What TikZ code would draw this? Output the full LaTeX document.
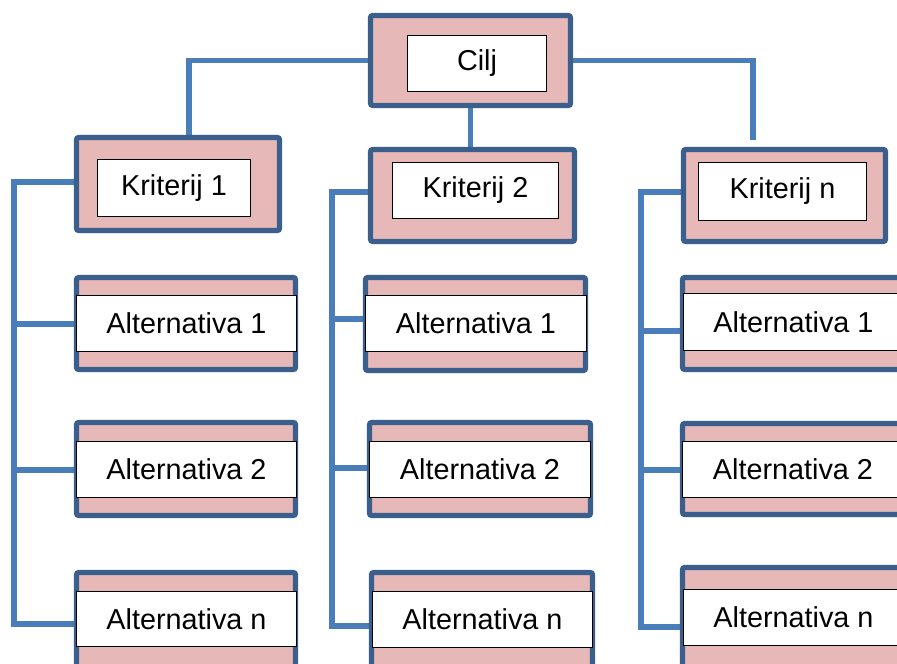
\documentclass[tikz,border=0pt]{standalone}
\usepackage{fontspec}
\setmainfont{Liberation Sans}
\usetikzlibrary{backgrounds}
\definecolor{bordblue}{HTML}{3A5F8D}
\definecolor{pinkfill}{HTML}{E6B8B7}
\definecolor{connblue}{HTML}{4A7EBB}
\tikzset{
  outerbox/.style 2 args={draw=bordblue, fill=pinkfill, line width=3.8pt, rounded corners=1.5pt,
     inner sep=0pt, outer sep=0pt, minimum width=#1*0.75pt, minimum height=#2*0.75pt},
  innerbox/.style 2 args={draw=black, fill=white, line width=0.8pt, inner sep=0pt, outer sep=0pt,
     minimum width=#1*0.75pt, minimum height=#2*0.75pt, font=\fontsize{21.6}{26}\selectfont},
  conn/.style={draw=connblue, line width=4.3pt, line join=miter}
}
\begin{document}
\begin{tikzpicture}[x=0.75pt,y=-0.75pt]
\useasboundingbox (0,0) rectangle (897,664);
\clip (0,0) rectangle (897,664);
% top goal
\node[outerbox={200}{90}] (co) at (470.5,60.5) {};
\node[innerbox={139}{56}] (ci) at (477,63.5) {Cilj};
% criteria
\node[outerbox={203}{93}] (k1o) at (178,184) {};
\node[innerbox={153}{57}] (k1i) at (174,188) {Kriterij 1};
\node[outerbox={204}{92}] (k2o) at (472.5,195.5) {};
\node[innerbox={166}{56}] (k2i) at (475.5,190.5) {Kriterij 2};
\node[outerbox={202}{92}] (k3o) at (784.5,195.5) {};
\node[innerbox={168}{58}] (k3i) at (782.5,191.5) {Kriterij n};
% column 1
\node[outerbox={219}{92}] (a11o) at (186,323.5) {};
\node[innerbox={220}{56}] (a11i) at (186.5,323.5) {Alternativa 1};
\node[outerbox={219}{93}] (a12o) at (186,469) {};
\node[innerbox={220}{56}] (a12i) at (186.5,469.5) {Alternativa 2};
\node[outerbox={219}{105}] (a13o) at (186,625) {};
\node[innerbox={220}{55}] (a13i) at (186.5,619) {Alternativa n};
% column 2
\node[outerbox={220}{93}] (a21o) at (475.5,324) {};
\node[innerbox={221}{56}] (a21i) at (476,323.5) {Alternativa 1};
\node[outerbox={221}{93}] (a22o) at (480,469) {};
\node[innerbox={221}{56}] (a22i) at (480,469.5) {Alternativa 2};
\node[outerbox={221}{105}] (a23o) at (482,625) {};
\node[innerbox={220}{56}] (a23i) at (482.5,619.5) {Alternativa n};
% column 3
\node[outerbox={230}{92}] (a31o) at (797.5,323.5) {};
\node[innerbox={220}{57}] (a31i) at (793.5,322) {Alternativa 1};
\node[outerbox={230}{91}] (a32o) at (797.5,469) {};
\node[innerbox={221}{56}] (a32i) at (793,469.5) {Alternativa 2};
\node[outerbox={230}{110}] (a33o) at (797.5,622.5) {};
\node[innerbox={220}{56}] (a33i) at (793.5,617.5) {Alternativa n};
% junction coordinates
\coordinate (j1) at (189,0);
\coordinate (j3) at (753,0);
\coordinate (s1t) at (14,182);
\coordinate (s1b) at (14,624);
\coordinate (h11) at (14,324);
\coordinate (h12) at (14,470);
\coordinate (s2t) at (332,192);
\coordinate (s2b) at (332,626);
\coordinate (h21) at (332,319);
\coordinate (h22) at (332,468);
\coordinate (s3t) at (641,192);
\coordinate (s3b) at (641,627);
\coordinate (h31) at (641,331);
\coordinate (h32) at (641,470);
\begin{scope}[on background layer]
\draw[conn] (co.west) -| (k1o.north -| j1);
\draw[conn, shorten >=7.5pt] (co.east) -| (k3o.north -| j3);
\draw[conn] (co.south) -- (co.south |- k2o.north);
% column 1
\draw[conn] (k1o.west |- s1t) -- (s1t) -- (s1b) -- (s1b -| a13i.west);
\draw[conn] (h11) -- (h11 -| a11i.west);
\draw[conn] (h12) -- (h12 -| a12i.west);
% column 2
\draw[conn] (k2o.west |- s2t) -- (s2t) -- (s2b) -- (s2b -| a23i.west);
\draw[conn] (h21) -- (h21 -| a21i.west);
\draw[conn] (h22) -- (h22 -| a22i.west);
% column 3
\draw[conn] (k3o.west |- s3t) -- (s3t) -- (s3b) -- (s3b -| a33i.west);
\draw[conn] (h31) -- (h31 -| a31i.west);
\draw[conn] (h32) -- (h32 -| a32i.west);
\end{scope}
\end{tikzpicture}
\end{document}
